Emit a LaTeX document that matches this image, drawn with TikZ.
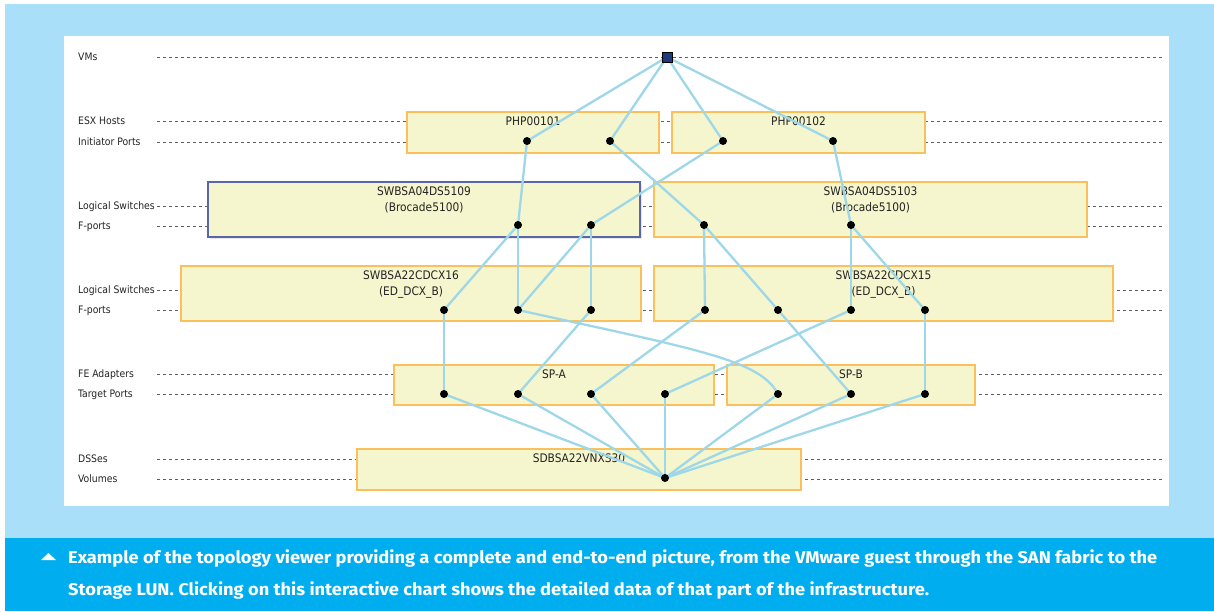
\documentclass[tikz,border=0pt]{standalone}
\usepackage{fontspec}
\setmainfont{DejaVu Sans Condensed}
\newfontfamily\capfont{Fira Sans}
\usetikzlibrary{shadows}
\pgfdeclarelayer{back}
\pgfdeclarelayer{links}
\pgfsetlayers{back,links,main}
\definecolor{skyback}{RGB}{169,223,249}
\definecolor{capblue}{RGB}{0,174,239}
\definecolor{boxfill}{RGB}{245,245,206}
\definecolor{boxline}{RGB}{251,192,90}
\definecolor{selline}{RGB}{90,102,168}
\definecolor{linkblue}{RGB}{158,216,232}
\definecolor{vmnavy}{RGB}{31,58,122}
\definecolor{guidegray}{RGB}{95,95,95}
\definecolor{txtgray}{RGB}{35,35,35}
\begin{document}
\begin{tikzpicture}[x=1pt, y=-1pt,
  rowlbl/.style={anchor=base west, inner sep=0pt, font=\fontsize{10.3}{12}\selectfont, text=txtgray},
  guide/.style={draw=guidegray, dash pattern=on 3pt off 3pt, line width=0.8pt},
  box/.style={draw=boxline, fill=boxfill, line width=1.2pt, inner sep=0pt},
  selbox/.style={box, draw=selline, drop shadow={opacity=0.18, shadow xshift=1.5pt, shadow yshift=-1.5pt}},
  boxname/.style={anchor=north, inner sep=0pt, yshift=-5pt, align=center, font=\fontsize{11.8}{16}\selectfont, text=txtgray},
  dot/.style={circle, fill=black, inner sep=0pt, minimum size=8pt},
  link/.style={draw=linkblue, line width=2.3pt},
  caption/.style={anchor=base west, inner sep=0pt, text=white, font=\capfont\bfseries\fontsize{17}{20}\selectfont}]
\useasboundingbox (0,0) rectangle (1214,611);
\begin{pgfonlayer}{back}
\fill[white] (0,0) rectangle (1214,611);
\fill[skyback] (5,4) rectangle (1214,538);
\fill[capblue] (5,538) rectangle (1214,611);
\fill[white] (64,36) rectangle (1169,506);
\foreach \n/\t/\y in {vms/VMs/57, esx/ESX Hosts/121, ini/Initiator Ports/142, lsa/Logical Switches/206, fpa/F-ports/226, lsb/Logical Switches/290, fpb/F-ports/310, fea/FE Adapters/374, tgt/Target Ports/394, dss/DSSes/459, vlm/Volumes/479}{
  \node[rowlbl] (\n) at (78,\y+3.6) {\t};
  \coordinate (\n-l) at (157,\y);
  \coordinate (\n-r) at (1164,\y);
  \draw[guide] (\n-l) -- (\n-r);
}
\node[box, minimum width=252, minimum height=41] (php1) at (533,132.5) {};
\node[box, minimum width=253, minimum height=41] (php2) at (798.5,132.5) {};
\node[selbox, minimum width=432, minimum height=55] (s09) at (424,209.5) {};
\node[box, minimum width=433, minimum height=55] (s03) at (870.5,209.5) {};
\node[box, minimum width=460, minimum height=55] (c16) at (411,293.5) {};
\node[box, minimum width=459, minimum height=55] (c15) at (883.5,293.5) {};
\node[box, minimum width=320, minimum height=40] (spa) at (554,385) {};
\node[box, minimum width=248, minimum height=40] (spb) at (851,385) {};
\node[box, minimum width=444, minimum height=41] (sdb) at (579,469.5) {};
\node[boxname] (php1-t) at (php1.north) {PHP00101};
\node[boxname] (php2-t) at (php2.north) {PHP00102};
\node[boxname] (s09-t) at (s09.north) {SWBSA04DS5109\\(Brocade5100)};
\node[boxname] (s03-t) at (s03.north) {SWBSA04DS5103\\(Brocade5100)};
\node[boxname] (c16-t) at (c16.north) {SWBSA22CDCX16\\(ED\_DCX\_B)};
\node[boxname] (c15-t) at (c15.north) {SWBSA22CDCX15\\(ED\_DCX\_B)};
\node[boxname] (spa-t) at (spa.north) {SP-A};
\node[boxname] (spb-t) at (spb.north) {SP-B};
\node[boxname] (sdb-t) at (sdb.north) {SDBSA22VNXS30};
\end{pgfonlayer}
\node[draw=black, fill=vmnavy, line width=0.8pt, inner sep=0pt, minimum size=10pt] (vm) at (667,57) {};
\foreach \n/\x/\y in {php1a/527/141, php1b/610/141, php2a/723/141, php2b/833/141,
  s09a/518/225, s09b/591/225, s03a/704/225, s03b/851/225,
  c16a/444/310, c16b/518/310, c16c/591/310,
  c15a/705/310, c15b/778/310, c15c/851/310, c15d/925/310,
  spaa/444/394, spab/518/394, spac/591/394, spad/665/394,
  spba/778/394, spbb/851/394, spbc/925/394, vol/665/478}
  \node[dot] (\n) at (\x,\y) {};
\begin{pgfonlayer}{links}
\foreach \a/\b in {vm/php1a, vm/php1b, vm/php2a, vm/php2b,
  php1a/s09a, php1b/s03a, php2a/s09b, php2b/s03b,
  s09a/c16a, s09a/c16b, s09b/c16b, s09b/c16c,
  s03a/c15a, s03a/c15b, s03b/c15c, s03b/c15d,
  c16a/spaa, c16c/spab, c15a/spac, c15c/spad, c15b/spbb, c15d/spbc,
  spaa/vol, spab/vol, spac/vol, spad/vol, spba/vol, spbb/vol, spbc/vol}
  \draw[link] (\a.center) -- (\b.center);
\draw[link] (c16b.center) .. controls (700,350) and (760,360) .. (spba.center);
\end{pgfonlayer}
\fill[white] (41,560) -- (56,560) -- (48.5,553) -- cycle;
\node[caption] (cap1) at (68,563) {\resizebox{1089pt}{\height}{Example of the topology viewer providing a complete and end-to-end picture, from the VMware guest through the SAN fabric to the}};
\node[caption] (cap2) at (68,595) {\resizebox{861pt}{\height}{Storage LUN. Clicking on this interactive chart shows the detailed data of that part of the infrastructure.}};
\end{tikzpicture}
\end{document}
